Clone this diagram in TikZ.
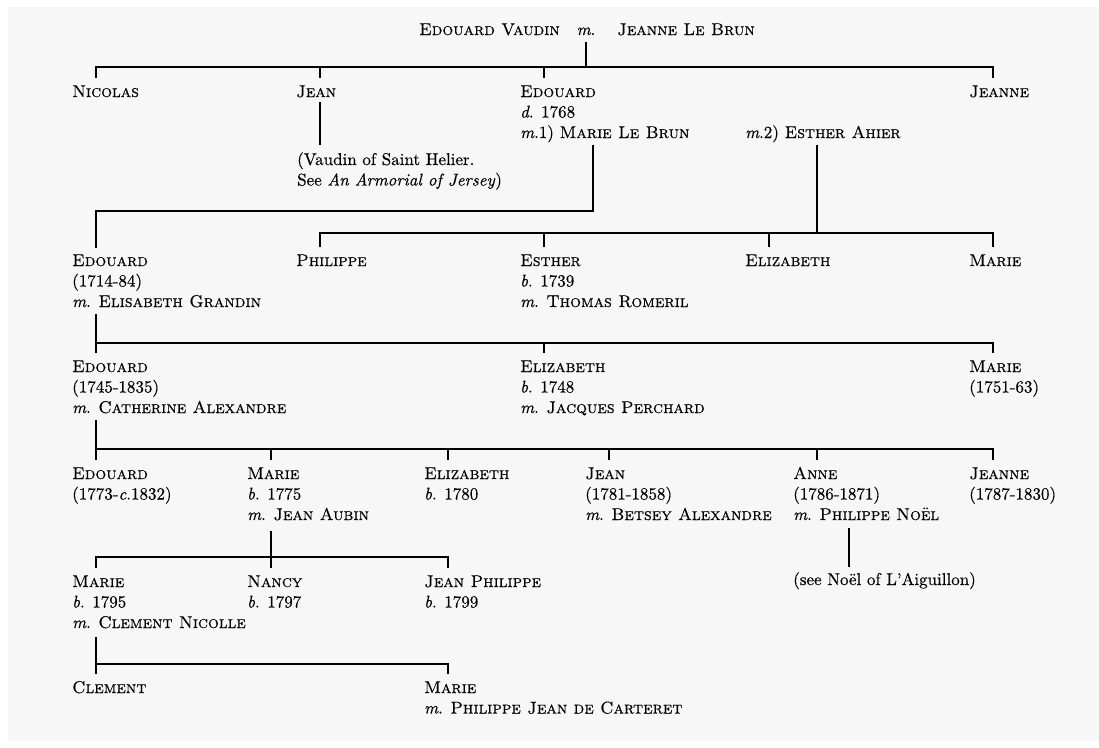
\documentclass[tikz,border=0pt]{standalone}
\usepackage{fontspec}
\setmainfont{lmroman10-regular.otf}[
  ItalicFont=lmroman10-italic.otf,
  SmallCapsFont=lmromancaps10-regular.otf,
  FakeBold=0.35]
\usetikzlibrary{calc}
\definecolor{paper}{RGB}{247,247,247}
\newcommand\lns[1]{\vtop{\baselineskip=20.5pt\halign{##\hfil\cr#1\crcr}}}
\begin{document}
\begin{tikzpicture}[x=1pt,y=-1pt,
  person/.style={anchor=base west, inner sep=0pt, font=\fontsize{17}{20.5}\selectfont},
  link/.style={line width=1.5pt, line join=miter}]
\fill[white] (0,0) rectangle (1099,747);
\fill[paper] (8,7) rectangle (1099,741);
\useasboundingbox (0,0) rectangle (1099,747);

% parents
\node[person, anchor=base east] (ev) at (560,35) {\textsc{Edouard Vaudin}};
\node[person, anchor=base] (evm) at (586,35) {\textit{m}.};
\node[person] (jlb) at (617,35) {\textsc{Jeanne Le Brun}};

% generation 1
\node[person] (nic) at (72,97) {\textsc{Nicolas}};
\node[person] (jean1) at (296,97) {\textsc{Jean}};
\node[person] (ed1) at (520,97) {\lns{\textsc{Edouard}\cr \textit{d}. 1768\cr \textit{m}.1) \textsc{Marie Le Brun}}};
\node[person] (ea) at (745,138) {\textit{m}.2) \textsc{Esther Ahier}};
\node[person] (jeanne1) at (969,97) {\textsc{Jeanne}};
\node[person] (jnote) at (297,165) {\lns{(Vaudin of Saint Helier.\cr See \textit{An Armorial of Jersey})}};

% generation 2
\node[person] (ed2) at (72,266) {\lns{\textsc{Edouard}\cr (1714-84)\cr \textit{m}. \textsc{Elisabeth Grandin}}};
\node[person] (phil) at (296,266) {\textsc{Philippe}};
\node[person] (est) at (520,266) {\lns{\textsc{Esther}\cr \textit{b}. 1739\cr \textit{m}. \textsc{Thomas Romeril}}};
\node[person] (eliz2) at (745,266) {\textsc{Elizabeth}};
\node[person] (marie2) at (969,266) {\textsc{Marie}};

% generation 3
\node[person] (ed3) at (72,372) {\lns{\textsc{Edouard}\cr (1745-1835)\cr \textit{m}. \textsc{Catherine Alexandre}}};
\node[person] (eliz3) at (520,372) {\lns{\textsc{Elizabeth}\cr \textit{b}. 1748\cr \textit{m}. \textsc{Jacques Perchard}}};
\node[person] (marie3) at (969,372) {\lns{\textsc{Marie}\cr (1751-63)}};

% generation 4
\node[person] (ed4) at (72,479) {\lns{\textsc{Edouard}\cr (1773-\textit{c}.1832)}};
\node[person] (marie4) at (247,479) {\lns{\textsc{Marie}\cr \textit{b}. 1775\cr \textit{m}. \textsc{Jean Aubin}}};
\node[person] (eliz4) at (424,479) {\lns{\textsc{Elizabeth}\cr \textit{b}. 1780}};
\node[person] (jean4) at (585,479) {\lns{\textsc{Jean}\cr (1781-1858)\cr \textit{m}. \textsc{Betsey Alexandre}}};
\node[person] (anne4) at (793,479) {\lns{\textsc{Anne}\cr (1786-1871)\cr \textit{m}. \textsc{Philippe No\"el}}};
\node[person] (jeanne4) at (969,479) {\lns{\textsc{Jeanne}\cr (1787-1830)}};
\node[person] (noel) at (793,585) {(see No\"el of L'Aiguillon)};

% generation 5
\node[person] (marie5) at (72,587) {\lns{\textsc{Marie}\cr \textit{b}. 1795\cr \textit{m}. \textsc{Clement Nicolle}}};
\node[person] (nancy) at (247,587) {\lns{\textsc{Nancy}\cr \textit{b}. 1797}};
\node[person] (jp) at (424,587) {\lns{\textsc{Jean Philippe}\cr \textit{b}. 1799}};

% generation 6
\node[person] (clem) at (72,693) {\textsc{Clement}};
\node[person] (marie6) at (424,693) {\lns{\textsc{Marie}\cr \textit{m}. \textsc{Philippe Jean de Carteret}}};

% ---------- connectors ----------
% parents -> generation 1
\draw[link] ($(evm.base)+(0,7)$) -- ($(evm.base)+(0,32)$);
\draw[link] ($(nic.base west)+(24,-19)$) -- ($(nic.base west)+(24,-30)$)
  -- ($(jeanne1.base west)+(24,-30)$) -- ($(jeanne1.base west)+(24,-19)$);
\draw[link] ($(jean1.base west)+(24,-30)$) -- ++(0,11);
\draw[link] ($(ed1.base west)+(24,-30)$) -- ++(0,11);
\draw[link] ($(jean1.base west)+(24,5)$) -- ($(jnote.base west)+(23,-20)$);

% Edouard m.1) -> Edouard (1714-84)
\draw[link] ($(ed1.base west)+(73,48)$) |- ($(ed2.base west)+(24,-55)$) -- ($(ed2.base west)+(24,-18)$);
% Edouard m.2) -> children
\draw[link] ($(ea.base west)+(72,7)$) -- ($(ea.base west)+(72,95)$);
\draw[link] ($(phil.base west)+(24,-19)$) -- ($(phil.base west)+(24,-33)$)
  -- ($(marie2.base west)+(24,-33)$) -- ($(marie2.base west)+(24,-19)$);
\draw[link] ($(est.base west)+(24,-33)$) -- ++(0,14);
\draw[link] ($(eliz2.base west)+(24,-33)$) -- ++(0,14);

% Edouard (1714-84) -> generation 3
\draw[link] ($(ed2.base west)+(24,48)$) -- ($(ed3.base west)+(24,-19)$);
\draw[link] ($(ed3.base west)+(24,-29)$) -- ($(marie3.base west)+(24,-29)$) -- ($(marie3.base west)+(24,-19)$);
\draw[link] ($(eliz3.base west)+(24,-29)$) -- ++(0,10);

% Edouard (1745-1835) -> generation 4
\draw[link] ($(ed3.base west)+(24,48)$) -- ($(ed4.base west)+(24,-19)$);
\draw[link] ($(ed4.base west)+(24,-30)$) -- ($(jeanne4.base west)+(24,-30)$) -- ($(jeanne4.base west)+(24,-19)$);
\foreach \n in {marie4,eliz4,jean4,anne4}
  \draw[link] ($(\n.base west)+(24,-30)$) -- ++(0,11);

% Marie b.1775 -> generation 5
\draw[link] ($(marie4.base west)+(24,52)$) -- ($(nancy.base west)+(24,-19)$);
\draw[link] ($(marie5.base west)+(24,-19)$) -- ($(marie5.base west)+(24,-30)$)
  -- ($(jp.base west)+(24,-30)$) -- ($(jp.base west)+(24,-19)$);

% Anne -> note
\draw[link] ($(anne4.base west)+(56,49)$) -- ($(noel.base west)+(56,-18)$);

% Marie b.1795 -> generation 6
\draw[link] ($(marie5.base west)+(24,50)$) -- ($(clem.base west)+(24,-19)$);
\draw[link] ($(clem.base west)+(24,-29)$) -- ($(marie6.base west)+(24,-29)$) -- ($(marie6.base west)+(24,-19)$);
\end{tikzpicture}
\end{document}
